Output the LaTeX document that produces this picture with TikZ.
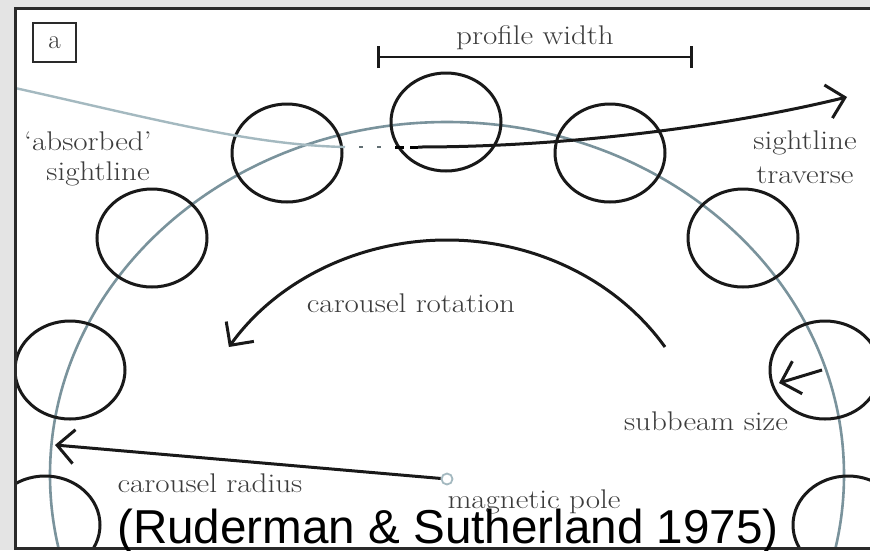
\documentclass[tikz,border=0pt]{standalone}
\usepackage{fontspec}
\newfontfamily\capfont{Liberation Sans}
\usetikzlibrary{arrows.meta,shapes.geometric}
\definecolor{carousel}{HTML}{7A939C}
\definecolor{absorbed}{HTML}{A4B9C0}
\definecolor{lbl}{HTML}{3C3C3C}
\definecolor{bgout}{HTML}{E4E4E4}
\definecolor{framec}{HTML}{2A2A2A}
\begin{document}
\begin{tikzpicture}[x=1pt,y=1pt,
  beam/.style={ellipse, draw=black!90, line width=3pt, minimum width=110pt, minimum height=98pt, inner sep=0pt},
  lab/.style={text=lbl, inner sep=0pt, anchor=base, xscale=1.15, font=\fontsize{27}{32}\selectfont},
  arr/.style={line width=3pt, black!90, -{Straight Barb[length=17pt,width=34pt]}},
]
\useasboundingbox (0,0) rectangle (870,-550);
\fill[bgout] (0,0) rectangle (870,-550);
\fill[white] (15,-8) rectangle (885,-548);
\begin{scope}
\clip (15,-8) rectangle (885,-548);
% carousel
\draw[carousel, line width=2.6pt] (447,-475) ellipse [x radius=397, y radius=353];
% beams
\node[beam] (b1) at (446,-122) {};
\node[beam] (b2) at (287,-153) {};
\node[beam] (b3) at (610,-153) {};
\node[beam] (b4) at (152,-238) {};
\node[beam] (b5) at (743,-238) {};
\node[beam] (b6) at (70,-370) {};
\node[beam] (b7) at (825,-370) {};
\node[beam] (b8) at (45,-525) {};
\node[beam] (b9) at (848,-525) {};
% absorbed sightline
\coordinate (sl0) at (15,-88);
\coordinate (sl1) at (345,-147);
\coordinate (sl2) at (395,-147);
\coordinate (sl3) at (418,-147);
\coordinate (sl4) at (847,-97);
\draw[absorbed, line width=2.4pt] (sl0) .. controls (150,-118) and (250,-145) .. (sl1);
\draw[absorbed!60!black, line width=2.6pt, dash pattern=on 4pt off 14pt, dash phase=-14pt] (sl1) -- (sl2);
\draw[black, line width=3pt, dash pattern=on 9pt off 6pt] (sl2) -- (sl3);
\draw[arr] (sl3) .. controls (560,-147) and (720,-128) .. (sl4);
% carousel rotation
\coordinate (rotS) at (665,-347);
\draw[arr] (rotS) arc[start angle=33, end angle=147, x radius=260, y radius=235];
% magnetic pole and radius
\node[circle, draw=absorbed, line width=1.8pt, minimum size=11pt, inner sep=0pt] (pole) at (447,-479) {};
\coordinate (rtip) at (55,-445);
\draw[arr] (pole) -- (rtip);
% subbeam size
\coordinate (sbS) at (822,-370);
\coordinate (sbE) at (779,-383);
\draw[arr] (sbS) -- (sbE);
\end{scope}
% frame
\draw[framec, line width=3pt] (15,-8) rectangle (885,-548);
% label a
\node[draw=framec, line width=2.8pt, minimum width=43pt, minimum height=39pt, inner sep=0pt, text=lbl, font=\fontsize{27}{32}\selectfont] (abox) at (54.5,-42.5) {a};
% profile width
\coordinate (pwL) at (377,-57);
\coordinate (pwR) at (693,-57);
\draw[line width=2.8pt, black!90, {Bar[width=22pt]}-{Bar[width=22pt]}] (pwL) -- (pwR);
\node[lab] (tpw) at (535,-44) {profile width};
% labels
\node[lab] (tab1) at (88,-150) {‘absorbed’};
\node[lab] (tab2) at (98,-180) {sightline};
\node[lab] (tst1) at (805,-149) {sightline};
\node[lab] (tst2) at (805,-183) {traverse};
\node[lab] (tcr) at (411,-312) {carousel rotation};
\node[lab] (tsb) at (706,-430) {subbeam size};
\node[lab] (trad) at (210,-492) {carousel radius};
\node[lab] (tmp) at (534,-508) {magnetic pole};
% caption
\node[anchor=base west, inner sep=0pt, font=\capfont\fontsize{47.6}{52}\selectfont] (cap) at (117,-543) {(Ruderman \& Sutherland 1975)};
\end{tikzpicture}
\end{document}
